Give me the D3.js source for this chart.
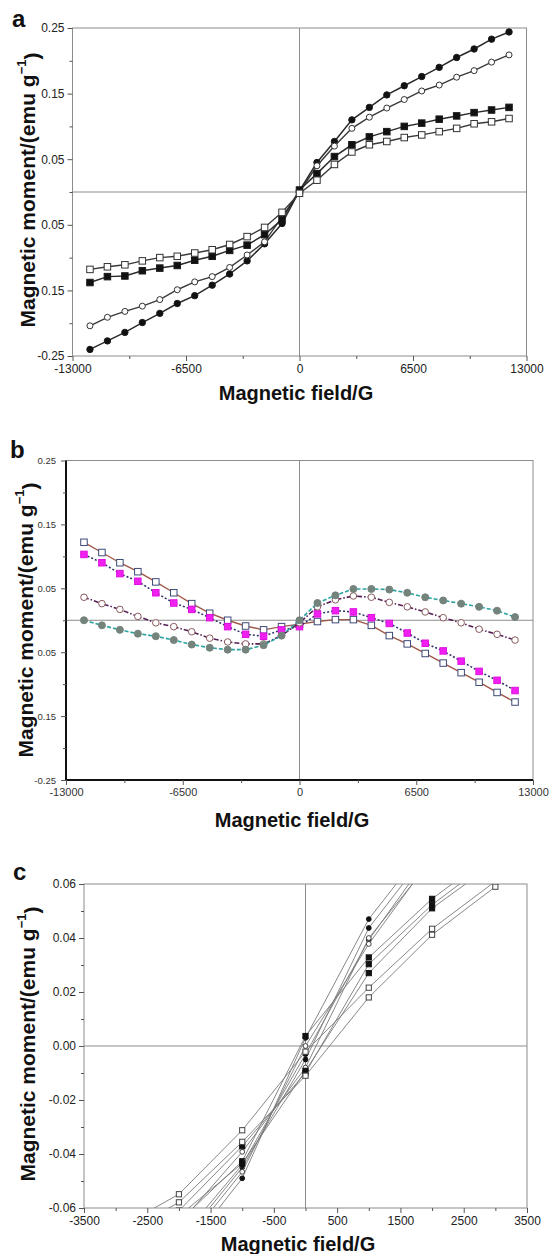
<!DOCTYPE html>
<html>
<head>
<meta charset="utf-8">
<script src="https://cdn.jsdelivr.net/npm/d3@7"></script>
<style>
  body { margin: 0; background: #fff; }
  text { font-family: "Liberation Sans", Arial, sans-serif; }
</style>
</head>
<body>
<svg id="chart" width="550" height="1254"></svg>
<script>
// ---- data ----
var fieldAB = [-12000, -11000, -10000, -9000, -8000, -7000, -6000, -5000, -4000, -3000, -2000, -1000, 0,
               1000, 2000, 3000, 4000, 5000, 6000, 7000, 8000, 9000, 10000, 11000, 12000];

// panel a
var aFilledCircle = [-0.240, -0.227, -0.214, -0.199, -0.185, -0.170, -0.158, -0.142, -0.125, -0.105, -0.079, -0.048, 0.002,
                     0.045, 0.077, 0.110, 0.129, 0.148, 0.162, 0.176, 0.190, 0.205, 0.218, 0.233, 0.244];
var aOpenCircle   = [-0.204, -0.191, -0.182, -0.174, -0.164, -0.149, -0.137, -0.129, -0.115, -0.096, -0.076, -0.038, 0.000,
                     0.040, 0.070, 0.097, 0.114, 0.128, 0.141, 0.154, 0.163, 0.175, 0.185, 0.198, 0.209];
var aFilledSquare = [-0.138, -0.129, -0.128, -0.120, -0.116, -0.112, -0.104, -0.098, -0.089, -0.081, -0.065, -0.042, 0.003,
                     0.028, 0.054, 0.072, 0.084, 0.092, 0.100, 0.105, 0.111, 0.116, 0.121, 0.125, 0.129];
var aOpenSquare   = [-0.118, -0.114, -0.111, -0.105, -0.100, -0.098, -0.093, -0.088, -0.080, -0.068, -0.054, -0.031, -0.002,
                     0.018, 0.042, 0.061, 0.072, 0.077, 0.083, 0.087, 0.092, 0.097, 0.104, 0.107, 0.112];

// panel b
var bOpenSquare   = [0.122, 0.106, 0.090, 0.076, 0.060, 0.043, 0.026, 0.011, 0.000, -0.009, -0.015, -0.010, -0.006,
                     -0.002, 0.001, 0.001, -0.008, -0.024, -0.037, -0.052, -0.067, -0.082, -0.097, -0.113, -0.128];
var bMagenta      = [0.103, 0.090, 0.073, 0.061, 0.043, 0.027, 0.017, 0.004, -0.010, -0.022, -0.025, -0.015, -0.010,
                     0.010, 0.015, 0.013, 0.004, -0.005, -0.020, -0.036, -0.048, -0.064, -0.080, -0.094, -0.110];
var bOpenCircle   = [0.036, 0.026, 0.017, 0.006, -0.004, -0.010, -0.018, -0.028, -0.034, -0.037, -0.037, -0.024, -0.004,
                     0.021, 0.032, 0.038, 0.036, 0.028, 0.021, 0.013, 0.004, -0.004, -0.014, -0.022, -0.031];
var bGray         = [0.000, -0.008, -0.015, -0.021, -0.025, -0.031, -0.038, -0.043, -0.046, -0.046, -0.039, -0.024, 0.000,
                     0.027, 0.039, 0.049, 0.049, 0.048, 0.043, 0.036, 0.031, 0.026, 0.021, 0.015, 0.005];

// panel c (zoom of the loops near zero field)
var fieldC = [-3000, -2000, -1000, 0, 1000, 2000, 3000];
var cFilledCircle1 = [-0.105, -0.079, -0.049, 0.003, 0.047, 0.077, 0.110];
var cFilledCircle2 = [-0.100, -0.074, -0.045, -0.005, 0.0437, 0.074, 0.105];
var cFilledCircle3 = [-0.098, -0.072, -0.044, -0.003, 0.0393, 0.072, 0.100];
var cOpenCircle1   = [-0.096, -0.076, -0.0466, 0.000, 0.0378, 0.070, 0.097];
var cOpenCircle2   = [-0.090, -0.066, -0.0392, -0.008, 0.040, 0.069, 0.095];
var cFilledSquare1 = [-0.081, -0.065, -0.0427, 0.0037, 0.0328, 0.0545, 0.072];
var cFilledSquare2 = [-0.078, -0.061, -0.0371, -0.0099, 0.0303, 0.0523, 0.070];
var cFilledSquare3 = [-0.080, -0.063, -0.0435, -0.0092, 0.027, 0.051, 0.068];
var cOpenSquare1   = [-0.068, -0.0549, -0.0312, -0.0021, 0.0216, 0.0434, 0.061];
var cOpenSquare2   = [-0.071, -0.0579, -0.0355, -0.011, 0.018, 0.0412, 0.059];

// ticks
var abMajorX = [-13000, -6500, 0, 6500, 13000];
var abMinorX = [-9750, -3250, 3250, 9750];
var abMajorY = [0.25, 0.15, 0.05, -0.05, -0.15, -0.25];
var abYLabels = ["0.25", "0.15", "0.05", "0.05", "0.15", "-0.25"];
var abMinorY = [0.2, 0.1, 0, -0.1, -0.2];
var cMajorX = [-3500, -2500, -1500, -500, 500, 1500, 2500, 3500];
var cMinorX = [-3000, -2000, -1000, 0, 1000, 2000, 3000];
var cMajorY = [0.06, 0.04, 0.02, 0.00, -0.02, -0.04, -0.06];
var cYLabels = ["0.06", "0.04", "0.02", "0.00", "-0.02", "-0.04", "-0.06"];
var cMinorY = [0.05, 0.03, 0.01, -0.01, -0.03, -0.05];

var svg = d3.select("#chart");

function zip(xs, ys) {
  return xs.map(function(d, i) { return [d, ys[i]]; });
}

function drawPanel(p) {
  var x = d3.scaleLinear().domain(p.xDomain).range([p.left, p.right]);
  var y = d3.scaleLinear().domain(p.yDomain).range([p.bottom, p.top]);
  var g = svg.append("g");

  g.append("clipPath").attr("id", "clip-" + p.name)
    .append("rect")
      .attr("x", p.left).attr("y", p.top)
      .attr("width", p.right - p.left).attr("height", p.bottom - p.top);

  // box
  g.append("rect")
    .attr("x", p.left).attr("y", p.top)
    .attr("width", p.right - p.left).attr("height", p.bottom - p.top)
    .attr("fill", "none").attr("stroke", "#8c8c8c").attr("stroke-width", 1);

  // zero lines
  g.append("line").attr("x1", p.left).attr("x2", p.right)
    .attr("y1", y(0)).attr("y2", y(0)).attr("stroke", "#8c8c8c").attr("stroke-width", 1);
  g.append("line").attr("x1", x(0)).attr("x2", x(0))
    .attr("y1", p.top).attr("y2", p.bottom).attr("stroke", "#8c8c8c").attr("stroke-width", 1);

  if (p.heavyAxes) {
    g.append("line").attr("x1", p.left).attr("x2", p.left).attr("y1", p.top).attr("y2", p.bottom)
      .attr("stroke", "#111").attr("stroke-width", 2);
    g.append("line").attr("x1", p.left).attr("x2", p.right).attr("y1", p.bottom).attr("y2", p.bottom)
      .attr("stroke", "#111").attr("stroke-width", 2);
  }

  // axes
  var xAxis = d3.axisBottom(x).tickValues(p.majorX)
    .tickFormat(function(d) { return d; }).tickSizeInner(5).tickSizeOuter(0).tickPadding(3);
  var gx = g.append("g").attr("transform", "translate(0," + p.bottom + ")").call(xAxis);
  var xMinor = d3.axisBottom(x).tickValues(p.minorX).tickFormat("").tickSizeInner(3).tickSizeOuter(0);
  var gxm = g.append("g").attr("transform", "translate(0," + p.bottom + ")").call(xMinor);

  var yAxis = d3.axisLeft(y).tickValues(p.majorY)
    .tickFormat(function(d, i) { return p.yLabels[i]; }).tickSizeInner(5).tickSizeOuter(0).tickPadding(p.yPad);
  var gy = g.append("g").attr("transform", "translate(" + p.left + ",0)").call(yAxis);
  var yMinor = d3.axisLeft(y).tickValues(p.minorY).tickFormat("").tickSizeInner(3).tickSizeOuter(0);
  var gym = g.append("g").attr("transform", "translate(" + p.left + ",0)").call(yMinor);

  [gx, gxm, gy, gym].forEach(function(a) {
    a.select(".domain").remove();
    a.selectAll("line").attr("stroke", "#555");
    a.selectAll("text").attr("fill", p.tickColor).style("font-family", "'Liberation Sans', Arial, sans-serif");
  });
  gx.selectAll("text").style("font-size", p.xTickFont + "px");
  gy.selectAll("text").style("font-size", p.yTickFont + "px");

  // series
  var plot = g.append("g").attr("clip-path", "url(#clip-" + p.name + ")");
  var line = d3.line().x(function(d) { return x(d[0]); }).y(function(d) { return y(d[1]); });

  p.series.forEach(function(s) {
    var pts = zip(s.x, s.y);
    plot.append("path").datum(pts)
      .attr("d", line)
      .attr("fill", "none")
      .attr("stroke", s.line)
      .attr("stroke-width", s.lineWidth)
      .attr("stroke-dasharray", s.dash || null);

    var m = plot.selectAll(null).data(pts).enter();
    if (s.shape === "circle") {
      m.append("circle")
        .attr("cx", function(d) { return x(d[0]); })
        .attr("cy", function(d) { return y(d[1]); })
        .attr("r", s.size)
        .attr("fill", s.fill).attr("stroke", s.stroke).attr("stroke-width", 1);
    } else {
      m.append("rect")
        .attr("x", function(d) { return x(d[0]) - s.size / 2; })
        .attr("y", function(d) { return y(d[1]) - s.size / 2; })
        .attr("width", s.size).attr("height", s.size)
        .attr("fill", s.fill).attr("stroke", s.stroke).attr("stroke-width", 1);
    }
  });

  // panel letter
  g.append("text").attr("x", p.letterX).attr("y", p.letterY)
    .style("font-size", "24px").style("font-weight", "bold").attr("fill", "#111")
    .text(p.name);

  // x title
  g.append("text").attr("x", p.xTitleX).attr("y", p.xTitleY)
    .attr("text-anchor", "middle").attr("dominant-baseline", "middle")
    .style("font-size", "20px").style("font-weight", "bold").attr("fill", "#111")
    .text("Magnetic field/G");

  // y title
  var yt = g.append("text")
    .attr("transform", "translate(" + p.yTitleX + "," + p.yTitleY + ") rotate(-90)")
    .attr("text-anchor", "middle").attr("dominant-baseline", "middle")
    .style("font-size", "21px").style("font-weight", "bold").attr("fill", "#111");
  yt.append("tspan").text("Magnetic moment/(emu g");
  yt.append("tspan").attr("dy", "-0.45em").style("font-size", "13px").text("\u22121");
  yt.append("tspan").attr("dy", "0.45em").text(")");
}

var blackStroke = "#1a1a1a";

drawPanel({
  name: "a", xDomain: [-13000, 13000], yDomain: [-0.25, 0.25],
  left: 72.5, right: 526.5, top: 28, bottom: 356,
  majorX: abMajorX, minorX: abMinorX, majorY: abMajorY, yLabels: abYLabels, minorY: abMinorY,
  xTickFont: 12, yTickFont: 12, yPad: 3, tickColor: "#222",
  letterX: 12, letterY: 27, xTitleX: 296, xTitleY: 395, yTitleX: 29, yTitleY: 190,
  series: [
    { x: fieldAB, y: aFilledCircle, shape: "circle", size: 3.2, fill: "#111", stroke: blackStroke, line: "#2a2a2a", lineWidth: 1.5 },
    { x: fieldAB, y: aOpenCircle, shape: "circle", size: 3, fill: "#fff", stroke: "#333", line: "#3a3a3a", lineWidth: 1.4 },
    { x: fieldAB, y: aFilledSquare, shape: "square", size: 6.5, fill: "#111", stroke: blackStroke, line: "#2a2a2a", lineWidth: 1.5 },
    { x: fieldAB, y: aOpenSquare, shape: "square", size: 6.5, fill: "#fff", stroke: "#333", line: "#3a3a3a", lineWidth: 1.4 }
  ]
});

drawPanel({
  name: "b", xDomain: [-13000, 13000], yDomain: [-0.25, 0.25],
  left: 66, right: 533, top: 460.5, bottom: 780,
  majorX: abMajorX, minorX: abMinorX, majorY: abMajorY, yLabels: abYLabels, minorY: abMinorY,
  xTickFont: 11, yTickFont: 9.5, yPad: 5, heavyAxes: true, tickColor: "#333",
  letterX: 10, letterY: 458, xTitleX: 292, xTitleY: 822, yTitleX: 27, yTitleY: 620,
  series: [
    { x: fieldAB, y: bOpenSquare, shape: "square", size: 6.5, fill: "#fff", stroke: "#3d4a78", line: "#a0584a", lineWidth: 1.4 },
    { x: fieldAB, y: bMagenta, shape: "square", size: 6.5, fill: "#f020f0", stroke: "#e010e0", line: "#2a2f6a", lineWidth: 1.5, dash: "2,2" },
    { x: fieldAB, y: bOpenCircle, shape: "circle", size: 3.3, fill: "#fff", stroke: "#8a5a5e", line: "#561e56", lineWidth: 1.6, dash: "5,2,1.5,2" },
    { x: fieldAB, y: bGray, shape: "circle", size: 3.5, fill: "#74847c", stroke: "#74847c", line: "#2aa3a0", lineWidth: 1.6, dash: "4,2" }
  ]
});

var cGrey = "#7a7a7a";
drawPanel({
  name: "c", xDomain: [-3500, 3500], yDomain: [-0.06, 0.06],
  left: 84, right: 527, top: 884, bottom: 1208,
  majorX: cMajorX, minorX: cMinorX, majorY: cMajorY, yLabels: cYLabels, minorY: cMinorY,
  xTickFont: 12, yTickFont: 12, yPad: 3, tickColor: "#222",
  letterX: 13, letterY: 880, xTitleX: 298, xTitleY: 1246, yTitleX: 29, yTitleY: 1044,
  series: [
    { x: fieldC, y: cFilledCircle1, shape: "circle", size: 2.4, fill: "#111", stroke: "#111", line: cGrey, lineWidth: 0.9 },
    { x: fieldC, y: cFilledCircle2, shape: "circle", size: 2.4, fill: "#111", stroke: "#111", line: cGrey, lineWidth: 0.9 },
    { x: fieldC, y: cFilledCircle3, shape: "circle", size: 2.4, fill: "#111", stroke: "#111", line: cGrey, lineWidth: 0.9 },
    { x: fieldC, y: cOpenCircle1, shape: "circle", size: 2.4, fill: "#fff", stroke: "#444", line: cGrey, lineWidth: 0.9 },
    { x: fieldC, y: cOpenCircle2, shape: "circle", size: 2.4, fill: "#fff", stroke: "#444", line: cGrey, lineWidth: 0.9 },
    { x: fieldC, y: cFilledSquare1, shape: "square", size: 5.2, fill: "#111", stroke: "#111", line: cGrey, lineWidth: 0.9 },
    { x: fieldC, y: cFilledSquare2, shape: "square", size: 5.2, fill: "#111", stroke: "#111", line: cGrey, lineWidth: 0.9 },
    { x: fieldC, y: cFilledSquare3, shape: "square", size: 5.2, fill: "#111", stroke: "#111", line: cGrey, lineWidth: 0.9 },
    { x: fieldC, y: cOpenSquare1, shape: "square", size: 5.2, fill: "#fff", stroke: "#444", line: cGrey, lineWidth: 0.9 },
    { x: fieldC, y: cOpenSquare2, shape: "square", size: 5.2, fill: "#fff", stroke: "#444", line: cGrey, lineWidth: 0.9 }
  ]
});
</script>
</body>
</html>
